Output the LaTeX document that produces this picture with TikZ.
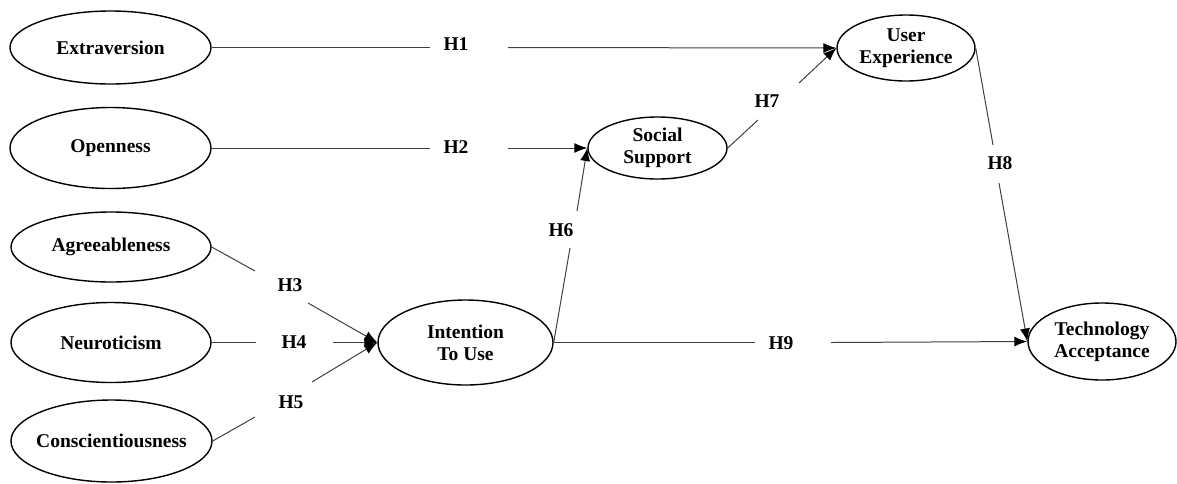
\documentclass[tikz,border=0pt]{standalone}
\usepackage{fontspec}
\setmainfont{Liberation Serif}
\usetikzlibrary{shapes.geometric,arrows.meta}
\begin{document}
\begin{tikzpicture}[x=1pt,y=-1pt,
  construct/.style={ellipse,draw=black,line width=1.4pt,inner xsep=-8pt,inner ysep=-4pt,align=center,
    font=\fontsize{19.5}{22}\selectfont\bfseries},
  hlabel/.style={font=\fontsize{19.5}{22}\selectfont\bfseries,inner sep=0pt},
  link/.style={draw=black!75,line width=1pt},
  arr/.style={link,-{Latex[length=13pt,width=10pt,color=black]}}]
\useasboundingbox (0,0) rectangle (1177,483);
% constructs
\node[construct,minimum width=201pt,minimum height=73pt] (ext) at (110.5,47.5) {Extraversion};
\node[construct,minimum width=201pt,minimum height=81pt] (ope) at (110.5,148) {Openness};
\node[construct,minimum width=200pt,minimum height=70pt] (agr) at (111,247) {Agreeableness};
\node[construct,minimum width=200pt,minimum height=80pt] (neu) at (111,342.5) {Neuroticism};
\node[construct,minimum width=201pt,minimum height=82pt] (con) at (111.5,441) {Conscientiousness};
\node[construct,minimum width=175pt,minimum height=85pt] (itu) at (465.5,342.5) {Intention\\To Use};
\node[construct,minimum width=139pt,minimum height=62pt] (ss) at (657.5,148) {Social\\Support};
\node[construct,minimum width=138pt,minimum height=66pt] (ux) at (906,48) {User\\Experience};
\node[construct,minimum width=148pt,minimum height=77pt] (ta) at (1102,341.5) {Technology\\Acceptance};
% gap end points
\coordinate (c1a) at (430,47.5);  \coordinate (c1b) at (508,47.5);
\coordinate (c2a) at (430,148);   \coordinate (c2b) at (508,148);
\coordinate (c3a) at (255,271);   \coordinate (c3b) at (308,303);
\coordinate (c4a) at (256,342.5); \coordinate (c4b) at (333,342.5);
\coordinate (c5a) at (255,417);   \coordinate (c5b) at (312,382);
\coordinate (c6a) at (570,248);   \coordinate (c6b) at (577,211);
\coordinate (c7a) at (758,120);   \coordinate (c7b) at (799,83);
\coordinate (c8a) at (993,145);   \coordinate (c8b) at (999,183);
\coordinate (c9a) at (755,342.5); \coordinate (c9b) at (831,342.5);
% connectors
\draw[link] (ext.east) -- (c1a); \draw[arr] (c1b) -- (ux.west);
\draw[link] (ope.east) -- (c2a); \draw[arr] (c2b) -- (ss.west);
\draw[link] (agr.east) -- (c3a); \draw[arr] (c3b) -- (itu.west);
\draw[link] (neu.east) -- (c4a); \draw[arr] (c4b) -- (itu.west);
\draw[link] (con.east) -- (c5a); \draw[arr] (c5b) -- (itu.west);
\draw[link] (itu.east) -- (c6a); \draw[arr] (c6b) -- (ss.west);
\draw[link] (ss.east) -- (c7a);  \draw[arr] (c7b) -- (ux.west);
\draw[link] (ux.east) -- (c8a);  \draw[arr] (c8b) -- (ta.west);
\draw[link] (itu.east) -- (c9a); \draw[arr] (c9b) -- (ta.west);
% labels
\node[hlabel] (h1) at (456,44) {H1};
\node[hlabel] (h2) at (456,147) {H2};
\node[hlabel] (h3) at (290,285) {H3};
\node[hlabel] (h4) at (294,342) {H4};
\node[hlabel] (h5) at (291,402) {H5};
\node[hlabel] (h6) at (561,230) {H6};
\node[hlabel] (h7) at (767,101) {H7};
\node[hlabel] (h8) at (1000,163) {H8};
\node[hlabel] (h9) at (781,343) {H9};
\end{tikzpicture}
\end{document}
